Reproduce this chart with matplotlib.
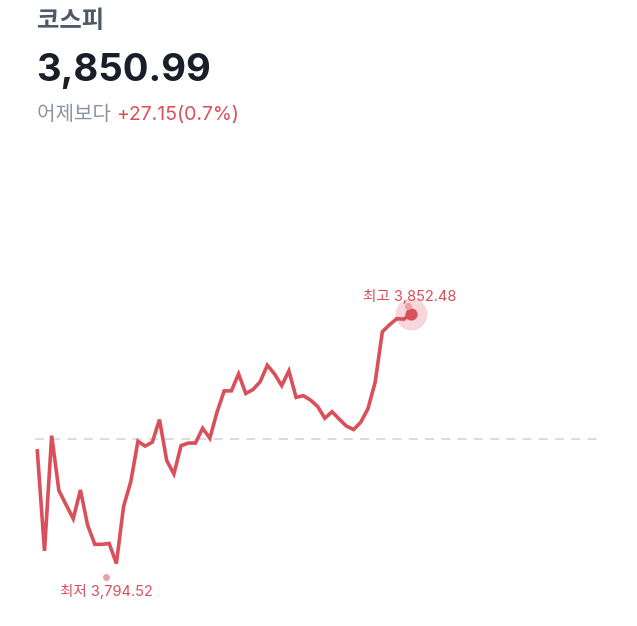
import matplotlib
matplotlib.use("Agg")
import matplotlib.pyplot as plt

plt.rcParams['font.family'] = ['Inter', 'Noto Sans CJK KR', 'DejaVu Sans']

# 데이터
종목명 = '코스피'
현재가 = 3850.99
전일대비 = 27.15
등락률 = 0.7
전일종가 = 현재가 - 전일대비
최고가 = 3852.48
최저가 = 3794.52

# 장중 지수 (화면에서 읽은 값)
지수 = [3821.0, 3798.0, 3824.5, 3811.9, 3808.6, 3805.4, 3812.0, 3803.9,
       3799.5, 3799.5, 3799.7, 3795.1, 3808.2, 3813.9, 3823.2, 3822.1,
       3823.0, 3828.2, 3818.8, 3815.7, 3822.2, 3822.8, 3822.8, 3826.2,
       3823.9, 3829.9, 3834.8, 3834.8, 3838.7, 3834.2, 3835.1, 3836.9,
       3840.7, 3838.7, 3836.0, 3839.4, 3833.3, 3833.7, 3832.7, 3831.2,
       3828.5, 3830.0, 3828.3, 3826.7, 3825.9, 3827.6, 3830.7, 3836.8,
       3848.4, 3850.0, 3851.4, 3851.3, 3852.48]
전체구간 = 78

W, H = 637, 626
fig = plt.figure(figsize=(W / 100, H / 100), dpi=100)

# 축 위치를 픽셀 기준으로 맞춤
x0, x1 = 37.3, 598
y_top, y_bot = 314, 566
ax = fig.add_axes([x0 / W, 1 - y_bot / H, (x1 - x0) / W, (y_bot - y_top) / H])
ax.set_xlim(0, 전체구간)
ax.set_ylim(최저가, 최고가)
ax.axis('off')

빨강 = '#d9505a'

ax.axhline(전일종가, xmin=-0.004, xmax=1, color='#d5d9de', lw=1.3,
           dashes=(5, 4), clip_on=False, zorder=1)
ax.plot(range(len(지수)), 지수, color=빨강, lw=2.6, clip_on=False,
        solid_joinstyle='miter', zorder=3)

# 최고점 표시
i_max = len(지수) - 1
ax.scatter([i_max], [최고가], s=480, color='#f7d7da', zorder=2, clip_on=False)
ax.scatter([i_max], [최고가], s=60, color=빨강, zorder=4, clip_on=False)
ax.annotate('최고 3,852.48', (i_max, 최고가), xytext=(-1, 7),
            textcoords='offset points', ha='center', va='bottom',
            fontsize=10.5, color=빨강)
ax.plot([i_max - 0.4], [최고가 + 1.8], 'o', ms=4, color='#eaa0a8',
        clip_on=False, zorder=5)

# 최저점 표시
i_min = 지수.index(min(지수))
ax.plot([i_min - 1.4], [최저가 - 2.6], 'o', ms=4, color='#eaa0a8', clip_on=False)
ax.annotate('최저 3,794.52', (i_min - 1.4, 최저가), xytext=(0, -13),
            textcoords='offset points', ha='center', va='top',
            fontsize=10.5, color=빨강)

# 상단 텍스트
fig.text(37 / W, 1 - 21 / H, 종목명, fontsize=17.5, fontweight='bold',
         color='#4e5968', va='center', ha='left')
fig.text(36 / W, 1 - 71 / H, f'{현재가:,.2f}', fontsize=27.5, fontweight='bold',
         color='#191f28', va='center', ha='left')
t = fig.text(37 / W, 1 - 115 / H, '어제보다 ', fontsize=14.5,
             color='#8b95a1', va='center', ha='left')
fig.canvas.draw()
bb = t.get_window_extent()
fig.text(bb.x1 / W, 1 - 115 / H, f'+{전일대비:.2f}({등락률}%)', fontsize=14,
         color=빨강, va='center', ha='left')

fig.savefig('out.png', dpi=100, facecolor='white')
